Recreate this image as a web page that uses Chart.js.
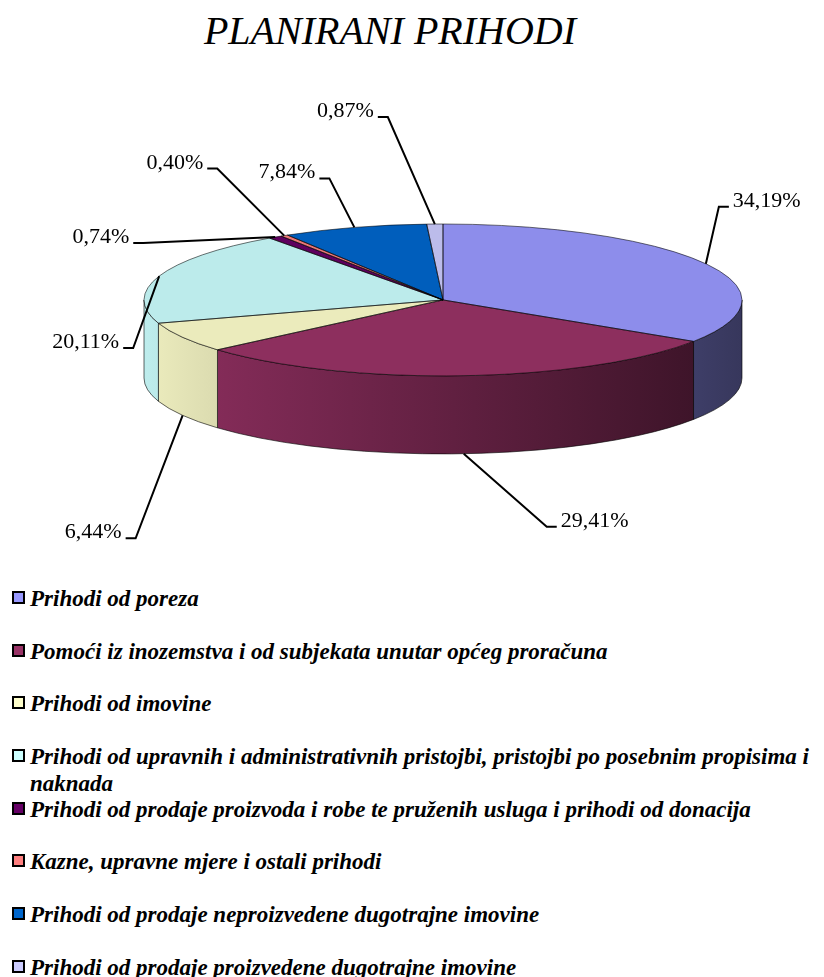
<!DOCTYPE html>
<html>
<head>
<meta charset="utf-8">
<script src="https://cdn.jsdelivr.net/npm/chart.js@4.4.0/dist/chart.umd.min.js"></script>
<style>
  body { margin: 0; background: #fff; width: 824px; height: 977px; position: relative; overflow: hidden; }
  #naslov { position: absolute; left: 0; top: 11px; width: 780px; text-align: center; font: italic 40px/40px "Liberation Serif", "Times New Roman", serif; color: #000; }
  #pita { position: absolute; left: 0; top: 0; }
  #legenda { position: absolute; left: 12px; top: 585px; width: 812px; }
  .stavka { height: 52.7px; display: flex; align-items: flex-start; font: italic bold 23px/27px "Liberation Serif", "Times New Roman", serif; color: #000; }
  .kocka { width: 9px; height: 9px; border: 2px solid #000; flex: none; margin: 6px 5px 0 0; }
</style>
</head>
<body>
<div id="naslov">PLANIRANI PRIHODI</div>
<canvas id="pita" width="824" height="570"></canvas>
<div id="legenda"></div>
<script>
const kategorije = [
    'Prihodi od poreza',
    'Pomoći iz inozemstva i od subjekata unutar općeg proračuna',
    'Prihodi od imovine',
    'Prihodi od upravnih i administrativnih pristojbi, pristojbi po posebnim propisima i naknada',
    'Prihodi od prodaje proizvoda i robe te pruženih usluga i prihodi od donacija',
    'Kazne, upravne mjere  i ostali prihodi',
    'Prihodi od prodaje neproizvedene dugotrajne imovine',
    'Prihodi od prodaje proizvedene dugotrajne imovine'
]
const udjeli = [34.19, 29.41, 6.44, 20.11, 0.74, 0.40, 7.84, 0.87]
const boje = ['#9999FF', '#993366', '#FFFFCC', '#CCFFFF', '#660066', '#FF8080', '#0066CC', '#CCCCFF']

// pomak lakta linije oznake od ruba pite (raspored, ne podaci)
const pomakOznaka = [[13, -57], [83, 73], [-47, 123], [-26, 72], [-132, 6], [-67, -67], [-25, -49], [-47, -107]]

const NAGIB = 0.254
const DUBINA = 0.261

function shade(hex, f) {
    const n = parseInt(hex.slice(1), 16)
    const r = Math.round(((n >> 16) & 255) * f)
    const g = Math.round(((n >> 8) & 255) * f)
    const b = Math.round((n & 255) * f)
    return `rgb(${r},${g},${b})`
}

function formatPostotak(v) {
    return v.toFixed(2).replace('.', ',') + '%'
}

function geometrija(chart) {
    const a = chart.chartArea
    const rx = (a.right - a.left) / 2
    const ry = rx * NAGIB
    return { cx: (a.left + a.right) / 2, cy: a.top + ry, rx, ry, depth: rx * DUBINA }
}

const pita3d = {
    id: 'pita3d',
    beforeDatasetsDraw(chart) {
        const ctx = chart.ctx
        const g = geometrija(chart)
        const arcs = chart.getDatasetMeta(0).data

        // bocni zid (prednja polovica)
        ctx.save()
        arcs.forEach((arc, i) => {
            const s = Math.max(arc.startAngle, 0)
            const e = Math.min(arc.endAngle, Math.PI)
            if (e <= s) return
            const grad = ctx.createLinearGradient(g.cx - g.rx, 0, g.cx + g.rx, 0)
            grad.addColorStop(0, shade(boje[i], 0.93))
            grad.addColorStop(1, shade(boje[i], 0.36))
            ctx.beginPath()
            ctx.ellipse(g.cx, g.cy, g.rx, g.ry, 0, s, e)
            ctx.ellipse(g.cx, g.cy + g.depth, g.rx, g.ry, 0, e, s, true)
            ctx.closePath()
            ctx.fillStyle = grad
            ctx.fill()
            ctx.strokeStyle = 'rgba(0,0,0,0.6)'
            ctx.lineWidth = 1
            ctx.stroke()
        })
        ctx.restore()

        // gornja ploha: lukove crta Chart.js, spljošteno u elipsu
        const a0 = arcs[0]
        ctx.save()
        ctx.translate(g.cx, g.cy)
        ctx.scale(g.rx / a0.outerRadius, g.ry / a0.outerRadius)
        ctx.translate(-a0.x, -a0.y)
    },
    afterDatasetsDraw(chart) {
        const ctx = chart.ctx
        ctx.restore()
        const g = geometrija(chart)
        const arcs = chart.getDatasetMeta(0).data

        ctx.save()
        ctx.strokeStyle = 'rgba(0,0,0,0.55)'
        ctx.lineWidth = 1
        arcs.forEach(arc => {
            ctx.beginPath()
            ctx.moveTo(g.cx, g.cy)
            ctx.ellipse(g.cx, g.cy, g.rx, g.ry, 0, arc.startAngle, arc.endAngle)
            ctx.closePath()
            ctx.stroke()
        })

        // oznake s linijama
        ctx.font = '22px "Liberation Serif", "Times New Roman", serif'
        ctx.lineWidth = 2
        ctx.strokeStyle = '#000'
        ctx.fillStyle = '#000'
        ctx.textBaseline = 'alphabetic'
        arcs.forEach((arc, i) => {
            const t = (arc.startAngle + arc.endAngle) / 2
            const front = Math.sin(t) > 0
            const x0 = g.cx + g.rx * Math.cos(t)
            const y0 = g.cy + g.ry * Math.sin(t) + (front ? g.depth : 0)
            const [dx, dy] = pomakOznaka[i]
            const x1 = x0 + dx
            const y1 = y0 + dy
            const dir = dx >= 0 ? 1 : -1
            const x2 = x1 + dir * 10
            ctx.beginPath()
            ctx.moveTo(x0, y0)
            ctx.lineTo(x1, y1)
            ctx.lineTo(x2, y1)
            ctx.stroke()
            ctx.textAlign = dir > 0 ? 'left' : 'right'
            ctx.fillText(formatPostotak(udjeli[i]), x2 + dir * 4, y1)
        })
        ctx.restore()
    }
}

new Chart(document.getElementById('pita'), {
    type: 'pie',
    data: {
        labels: kategorije,
        datasets: [{
            data: udjeli,
            backgroundColor: boje.map(c => shade(c, 0.92)),
            borderWidth: 0,
            hoverOffset: 0,
            clip: false
        }]
    },
    options: {
        responsive: false,
        animation: false,
        events: [],
        layout: { padding: { left: 144, right: 82, top: 224, bottom: 146 } },
        plugins: {
            legend: { display: false },
            tooltip: { enabled: false },
            title: { display: false }
        }
    },
    plugins: [pita3d]
})

const legenda = document.getElementById('legenda')
kategorije.forEach((k, i) => {
    const red = document.createElement('div')
    red.className = 'stavka'
    red.innerHTML = `<span class="kocka" style="background:${boje[i]}"></span><span>${k}</span>`
    legenda.appendChild(red)
})
</script>
</body>
</html>
